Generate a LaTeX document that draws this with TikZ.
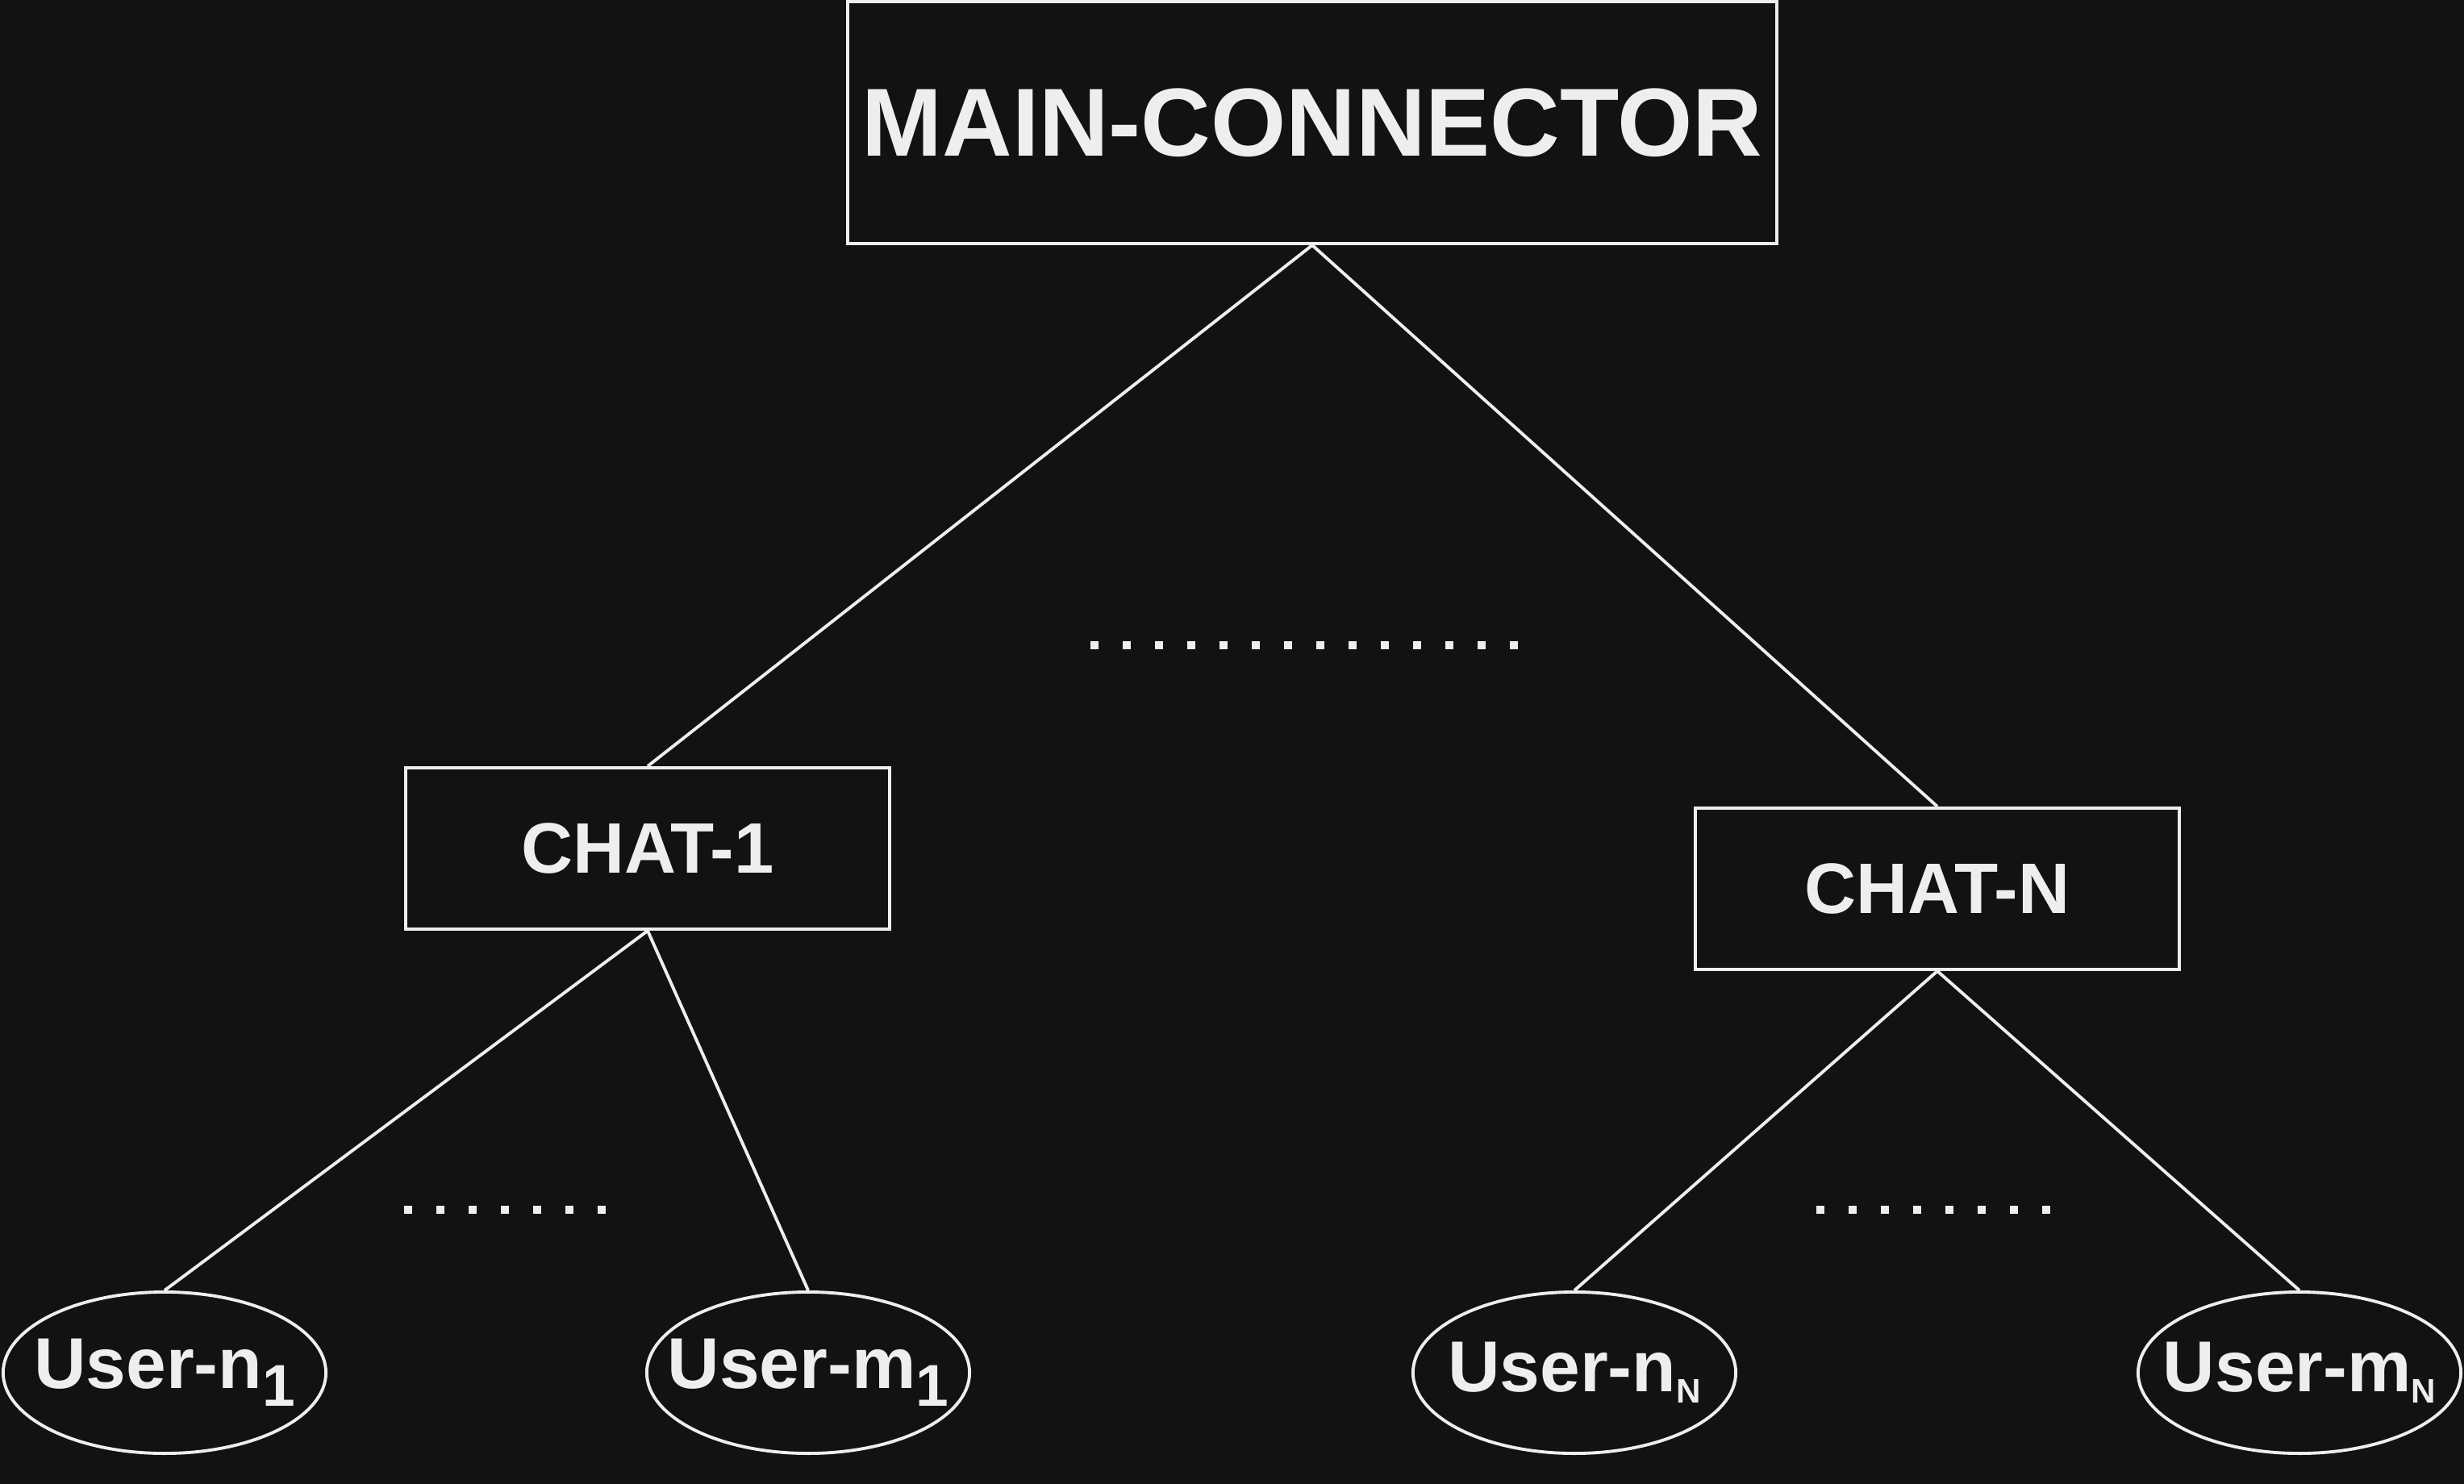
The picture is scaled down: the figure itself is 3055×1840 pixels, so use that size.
\documentclass[tikz,border=0pt]{standalone}
\usepackage{fontspec}
\setmainfont{Liberation Sans}
\usetikzlibrary{shapes.geometric}

\definecolor{bg}{HTML}{121212}
\definecolor{fg}{HTML}{EEEEEE}
\newcommand{\subone}[1]{\raisebox{-6.3pt}{\fontsize{20.8}{20.8}\selectfont #1}}
\newcommand{\subN}[1]{\raisebox{-4pt}{\fontsize{12}{12}\selectfont #1}}

\begin{document}
\begin{tikzpicture}[x=0.01cm, y=-0.01cm, color=fg, line width=1.1pt]
\tikzstyle{box}=[rectangle,draw=fg,fill=bg,text=fg,inner sep=0pt,minimum width=6cm,minimum height=2cm,font=\bfseries\fontsize{25.2}{30}\selectfont]
\tikzstyle{usr}=[ellipse,draw=fg,fill=bg,inner sep=0pt,minimum width=4cm,minimum height=2cm,label distance=0pt,label={[text=fg,inner sep=0pt,font=\bfseries\fontsize{25.4}{30}\selectfont]center:#1}]
\tikzstyle{dot}=[fill=fg]
\path[use as bounding box, fill=bg] (0,0) rectangle (3055,1840);
\node[box, minimum width=11.51cm, minimum height=3cm, font=\bfseries\fontsize{34.1}{40}\selectfont] (M) at (1627,152) {MAIN-CONNECTOR};
\node[box] (C1) at (803,1052)  {CHAT-1};
\node[box] (CN) at (2402,1102) {CHAT-N};
\node[usr={User-n\subone{1}}] (U1) at (204,1702)  {};
\node[usr={User-m\subone{1}}] (V1) at (1002,1702) {};
\node[usr={User-n\subN{N}}]   (UN) at (1952,1702) {};
\node[usr={User-m\subN{N}}]   (VN) at (2851,1702) {};
\path
(M.south)  edge (C1.north)
           edge (CN.north)
(C1.south) edge (U1.north)
           edge (V1.north)
(CN.south) edge (UN.north)
           edge (VN.north);
% dotted gaps
\foreach \i in {0,...,13} \fill[dot] (1352+40*\i,795) rectangle ++(10,10);
\foreach \i in {0,...,6}  \fill[dot] (501+40*\i,1495) rectangle ++(10,10);
\foreach \i in {0,...,7}  \fill[dot] (2252+40*\i,1495) rectangle ++(10,10);
\end{tikzpicture}
\end{document}
